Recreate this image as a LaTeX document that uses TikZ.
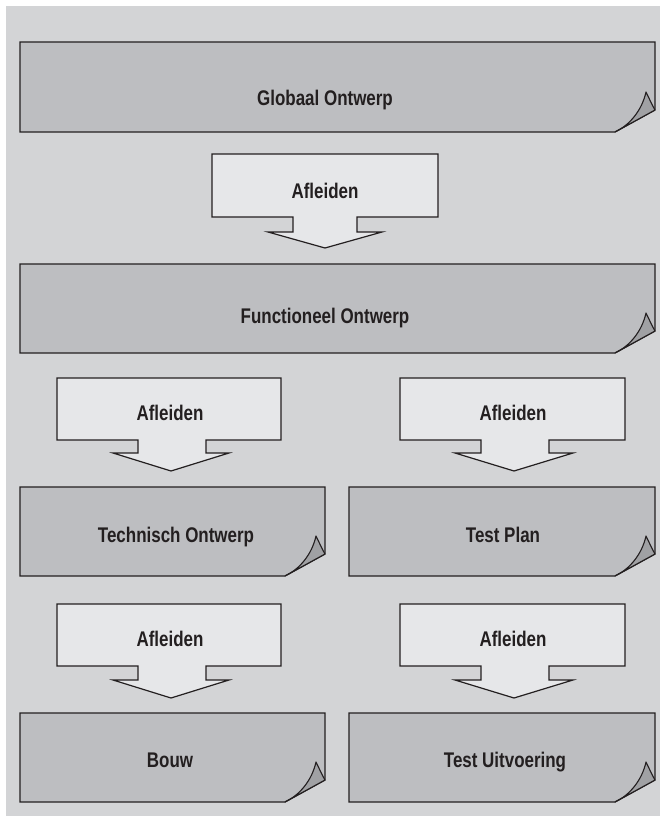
\documentclass[tikz,border=0pt]{standalone}
\usepackage{fontspec}
\setmainfont{Liberation Sans}[FakeStretch=0.8]
\definecolor{bgc}{HTML}{D3D4D6}
\definecolor{boxc}{HTML}{BDBEC1}
\definecolor{arrc}{HTML}{E6E7E9}
\definecolor{flapc}{HTML}{A0A1A4}
\definecolor{linec}{HTML}{231F20}
\tikzset{
  docshape/.style={draw=linec, fill=boxc, line width=1.3pt, line join=miter},
  flapshape/.style={draw=linec, fill=flapc, line width=1.1pt, line join=round},
  arrshape/.style={draw=linec, fill=arrc, line width=1.2pt, line join=miter},
  lbl/.style={font=\bfseries\fontsize{21.2}{25}\selectfont, text=linec, inner sep=0pt, anchor=base}
}
% #1 L, #2 T, #3 R, #4 B, #5 name, #6 text, #7 text x, #8 baseline y
\newcommand\mkdocbox[8]{%
  \path[docshape] (#1,#2) -- (#3,#2) -- (#3,#4-22) -- (#3-40,#4) -- (#1,#4) -- cycle;
  \path[flapshape] (#3-40,#4) .. controls (#3-25,#4-7) and (#3-13,#4-22) .. (#3-9,#4-40)
     .. controls (#3-6,#4-34) and (#3-3,#4-27) .. (#3,#4-22) -- cycle;
  \node[lbl] (#5) at (#7,#8) {#6};
}
% #1 x1, #2 x2, #3 y1, #4 y2, #5 s1, #6 s2, #7 w1, #8 w2, #9 yw ; tip y in \arrtipy
\newcommand\mkdownarrow[9]{%
  \path[arrshape] (#1,#3) -- (#2,#3) -- (#2,#4) -- (#6,#4) -- (#6,#9) -- (#8,#9)
     -- ({(#7+#8)/2},\arrtipy) -- (#7,#9) -- (#5,#9) -- (#5,#4) -- (#1,#4) -- cycle;
}
\begin{document}
\begin{tikzpicture}[x=1pt,y=-1pt]
\useasboundingbox (0,0) rectangle (660,816);
\fill[bgc] (6,6) rectangle (660,816);

\mkdocbox{20}{42}{655}{132}{glob}{Globaal Ontwerp}{325}{105}
\def\arrtipy{248}
\mkdownarrow{212}{438}{154}{217}{293}{357}{268}{382}{232}
\node[lbl] (a1) at (325,198) {Afleiden};

\mkdocbox{20}{264}{655}{353}{func}{Functioneel Ontwerp}{325}{323}

\def\arrtipy{471}
\mkdownarrow{57}{281}{378}{440}{138}{206}{113}{229}{453}
\node[lbl] (a2) at (170,420) {Afleiden};
\mkdownarrow{400}{625}{378}{440}{481}{549}{455}{573}{453}
\node[lbl] (a3) at (513,420) {Afleiden};

\mkdocbox{20}{487}{325}{576}{tech}{Technisch Ontwerp}{176}{542}
\mkdocbox{349}{487}{655}{576}{tplan}{Test Plan}{503}{542}

\def\arrtipy{698}
\mkdownarrow{57}{281}{604}{666}{138}{206}{113}{229}{680}
\node[lbl] (a4) at (170,646) {Afleiden};
\mkdownarrow{400}{625}{604}{666}{481}{549}{455}{573}{680}
\node[lbl] (a5) at (513,646) {Afleiden};

\mkdocbox{20}{713}{325}{802}{bouw}{Bouw}{170}{767}
\mkdocbox{349}{713}{655}{802}{tuitv}{Test Uitvoering}{505}{767}
\end{tikzpicture}
\end{document}
